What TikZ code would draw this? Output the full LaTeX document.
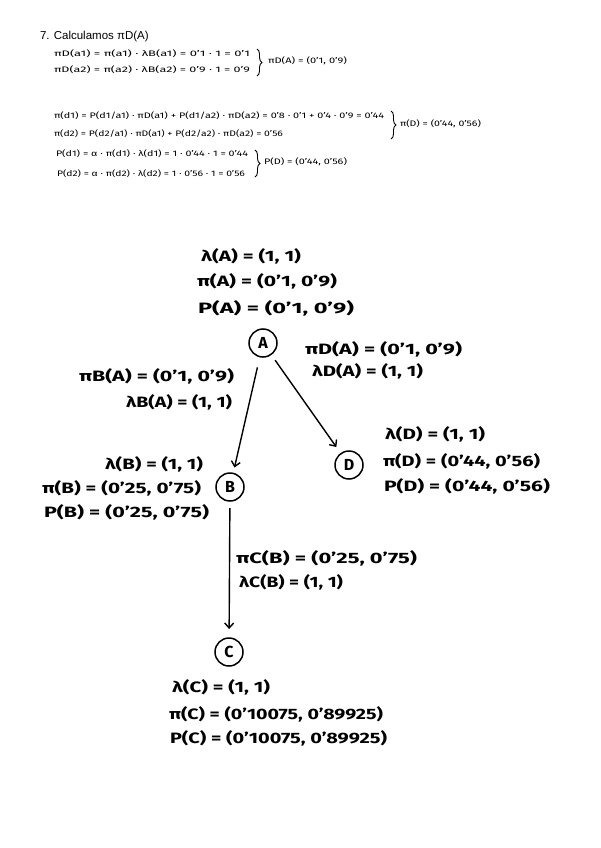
\documentclass[tikz,border=0pt]{standalone}
\usepackage{fontspec}
\setmainfont{Fira Sans}
\newfontfamily\titlefont{Liberation Sans}
\usetikzlibrary{decorations.pathreplacing,arrows.meta}
\newcommand\hw[6]{\node[lbl] (#1) at (#2,#3) {\resizebox{#4pt}{\height}{\fontsize{#5}{#5}\selectfont\bfseries #6}};}
\newcommand\sm[5]{\node[lbl] (#1) at (#2,#3) {\resizebox{#4pt}{\height}{\fontsize{8}{8}\selectfont #5}};}
\begin{document}
\begin{tikzpicture}[x=1pt,y=-1pt,
  lbl/.style={anchor=west,inner sep=0pt,outer sep=0pt},
  var/.style={circle,draw,line width=1.5pt,minimum size=28pt,inner sep=0pt,outer sep=0pt,font=\fontsize{16}{16}\selectfont\bfseries},
  arr/.style={line width=1.4pt,-{Straight Barb[length=5pt,width=9pt,line width=1.4pt]}},
  brc/.style={line width=0.9pt,decorate,decoration={brace,amplitude=5pt}}]
\useasboundingbox (0,0) rectangle (600,848);
\fill[white] (0,0) rectangle (600,848);
% title
\node[lbl] (title) at (40,37) {\titlefont\fontsize{11.5}{12}\selectfont 7. Calculamos πD(A)};
% block 1
\sm{l1}{54}{54}{196}{πD(a1) = π(a1) · λB(a1) = 0'1 · 1 = 0'1}
\sm{l2}{54}{70}{196}{πD(a2) = π(a2) · λB(a2) = 0'9 · 1 = 0'9}
\coordinate (b1t) at (257,49); \coordinate (b1b) at (257,76);
\draw[brc] (b1t) -- (b1b);
\sm{r1}{268}{61}{79}{πD(A) = (0'1, 0'9)}
% block 2
\sm{l3}{54}{116}{330}{π(d1) = P(d1/a1) · πD(a1) + P(d1/a2) · πD(a2) = 0'8 · 0'1 + 0'4 · 0'9 = 0'44}
\sm{l4}{54}{134}{229}{π(d2) = P(d2/a1) · πD(a1) + P(d2/a2) · πD(a2) = 0'56}
\coordinate (b2t) at (391,111); \coordinate (b2b) at (391,139);
\draw[brc] (b2t) -- (b2b);
\sm{r2}{400}{124}{81}{π(D) = (0'44, 0'56)}
\sm{l5}{56}{154}{192}{P(d1) = α · π(d1) · λ(d1) = 1 · 0'44 · 1 = 0'44}
\sm{l6}{57}{174}{188}{P(d2) = α · π(d2) · λ(d2) = 1 · 0'56 · 1 = 0'56}
\coordinate (b3t) at (255,150); \coordinate (b3b) at (255,177);
\draw[brc] (b3t) -- (b3b);
\sm{r3}{264}{162}{83}{P(D) = (0'44, 0'56)}
% nodes
\node[var] (A) at (263,343) {A};
\node[var] (B) at (230,487) {B};
\node[var] (D) at (349,465) {D};
\node[var] (C) at (229,652) {C};
% arrows
\draw[arr,shorten <=11pt,shorten >=6pt] (A) -- (B);
\draw[arr,shorten <=7pt,shorten >=8pt] (A) -- (D);
\draw[arr,shorten <=7pt,shorten >=9pt] (B) -- (C);
% labels A
\hw{lA}{201}{256}{100}{15}{λ(A) = (1, 1)}
\hw{pA}{197}{281}{140}{15}{π(A) = (0'1, 0'9)}
\hw{PA}{198}{308}{156}{15}{P(A) = (0'1, 0'9)}
\hw{pDA}{305}{349}{157}{15}{πD(A) = (0'1, 0'9)}
\hw{lDA}{312}{371}{111}{15}{λD(A) = (1, 1)}
\hw{pBA}{79}{376}{155}{15}{πB(A) = (0'1, 0'9)}
\hw{lBA}{126}{402}{106}{15}{λB(A) = (1, 1)}
% labels D
\hw{lD}{385}{434}{100}{15}{λ(D) = (1, 1)}
\hw{pD}{383}{461}{157}{15}{π(D) = (0'44, 0'56)}
\hw{PD}{384}{486}{166}{15}{P(D) = (0'44, 0'56)}
% labels B
\hw{lB}{105}{464}{98}{15}{λ(B) = (1, 1)}
\hw{pB}{42}{488}{159}{15}{π(B) = (0'25, 0'75)}
\hw{PB}{44}{512}{165}{15}{P(B) = (0'25, 0'75)}
\hw{pCB}{236}{558}{181}{15}{πC(B) = (0'25, 0'75)}
\hw{lCB}{239}{582}{104}{15}{λC(B) = (1, 1)}
% labels C
\hw{lC}{172}{687}{98}{15}{λ(C) = (1, 1)}
\hw{pC}{169}{714}{214}{15}{π(C) = (0'10075, 0'89925)}
\hw{PC}{170}{738}{217}{15}{P(C) = (0'10075, 0'89925)}
\end{tikzpicture}
\end{document}
